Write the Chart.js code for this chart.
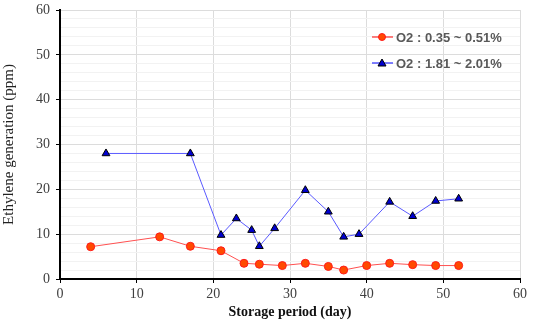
<!DOCTYPE html>
<html>
<head>
<meta charset="utf-8">
<script src="https://cdn.jsdelivr.net/npm/chart.js@4.4.1/dist/chart.umd.min.js"></script>
<style>
  html, body { margin: 0; padding: 0; background: #fff; }
  #wrap { width: 533px; height: 321px; }
</style>
</head>
<body>
<div id="wrap"><canvas id="chart" width="533" height="321"></canvas></div>
<script>
// Data
const lowDays = [4, 13, 17, 21, 24, 26, 29, 32, 35, 37, 40, 43, 46, 49, 52];
const lowValues = [7.2, 9.4, 7.3, 6.3, 3.5, 3.3, 3.0, 3.5, 2.8, 2.0, 3.0, 3.5, 3.2, 3.0, 3.0];
const highDays = [6, 17, 21, 23, 25, 26, 28, 32, 35, 37, 39, 43, 46, 49, 52];
const highValues = [28.0, 28.0, 9.8, 13.5, 10.9, 7.3, 11.3, 19.8, 15.0, 9.4, 10.0, 17.2, 14.0, 17.4, 17.9];
const seriesLabels = ['O2 : 0.35 ~ 0.51%', 'O2 : 1.81 ~ 2.01%'];
const xTitle = 'Storage period (day)';
const yTitle = 'Ethylene generation (ppm)';

const toPoints = (xs, ys) => xs.map((x, i) => ({ x: x, y: ys[i] }));

// legend drawn inside the plot, line + marker like the original
const innerLegend = {
    id: 'innerLegend',
    afterDraw(chart) {
        const ctx = chart.ctx;
        const rows = [37, 63];
        chart.data.datasets.forEach((ds, i) => {
            const y = rows[i];
            ctx.save();
            ctx.strokeStyle = ds.legendLine;
            ctx.lineWidth = 1;
            ctx.beginPath();
            ctx.moveTo(372, y);
            ctx.lineTo(393, y);
            ctx.stroke();
            ctx.fillStyle = ds.pointBackgroundColor;
            ctx.strokeStyle = ds.pointBorderColor;
            ctx.beginPath();
            if (ds.pointStyle === 'circle') {
                ctx.arc(382, y, 3.5, 0, Math.PI * 2);
            } else {
                ctx.moveTo(382, y - 4);
                ctx.lineTo(386, y + 3);
                ctx.lineTo(378, y + 3);
                ctx.closePath();
            }
            ctx.fill();
            ctx.stroke();
            ctx.fillStyle = '#595959';
            ctx.font = 'bold 13px "Liberation Sans", Arial, sans-serif';
            ctx.textBaseline = 'middle';
            ctx.fillText(ds.label, 396, y + 1);
            ctx.restore();
        });
    }
};

const ctx = document.getElementById('chart').getContext('2d');
const chart = new Chart(ctx, {
    type: 'scatter',
    data: {
        datasets: [
            {
                label: seriesLabels[0],
                data: toPoints(lowDays, lowValues),
                showLine: true,
                borderColor: '#ff5050',
                legendLine: '#ff0000',
                borderWidth: 1,
                pointStyle: 'circle',
                pointRadius: 4,
                pointBackgroundColor: '#ff4a00',
                pointBorderColor: '#ff1a1a',
                pointBorderWidth: 1
            },
            {
                label: seriesLabels[1],
                data: toPoints(highDays, highValues),
                showLine: true,
                borderColor: '#5a5aff',
                legendLine: '#0000ff',
                borderWidth: 1,
                pointStyle: 'triangle',
                pointRadius: 4.5,
                pointBackgroundColor: '#0000d0',
                pointBorderColor: '#000000',
                pointBorderWidth: 1
            }
        ]
    },
    options: {
        responsive: false,
        animation: false,
        layout: { padding: { top: 10, right: 13, left: 0, bottom: 0 } },
        plugins: {
            legend: { display: false },
            tooltip: { enabled: false }
        },
        scales: {
            x: {
                type: 'linear',
                min: 0,
                max: 60,
                afterFit: (scale) => { scale.height = 42; },
                ticks: {
                    stepSize: 10,
                    color: '#404040',
                    padding: 3,
                    font: { family: '"Liberation Serif", "Times New Roman", serif', size: 14 }
                },
                grid: {
                    color: '#dcdcdc',
                    tickColor: '#000',
                    tickLength: 4
                },
                border: { color: '#000', width: 2 },
                title: {
                    display: true,
                    text: xTitle,
                    color: '#111',
                    padding: { top: 1, bottom: 0 },
                    font: { family: '"Liberation Serif", "Times New Roman", serif', size: 14, weight: 'bold' }
                }
            },
            y: {
                min: 0,
                max: 60,
                afterFit: (scale) => {
                    scale.width = 60;
                    scale.paddingTop = 0;
                },
                afterBuildTicks: (scale) => {
                    const t = [];
                    for (let v = 0; v <= 60; v += 2) t.push({ value: v });
                    scale.ticks = t;
                },
                ticks: {
                    autoSkip: false,
                    color: '#404040',
                    padding: 6,
                    font: { family: '"Liberation Serif", "Times New Roman", serif', size: 14, lineHeight: 1 },
                    callback: (v) => (v % 10 === 0 ? v : '')
                },
                grid: {
                    color: (c) => (c.tick && c.tick.value % 10 === 0 ? '#dcdcdc' : '#f2f2f2'),
                    tickColor: (c) => (c.tick && c.tick.value % 10 === 0 ? '#000' : 'rgba(0,0,0,0)'),
                    tickLength: 4
                },
                border: { color: '#000', width: 2 },
                title: {
                    display: true,
                    text: yTitle,
                    color: '#222',
                    padding: { top: 0, bottom: 2 },
                    font: { family: '"Liberation Serif", "Times New Roman", serif', size: 15 }
                }
            }
        }
    },
    plugins: [innerLegend]
});
</script>
</body>
</html>
